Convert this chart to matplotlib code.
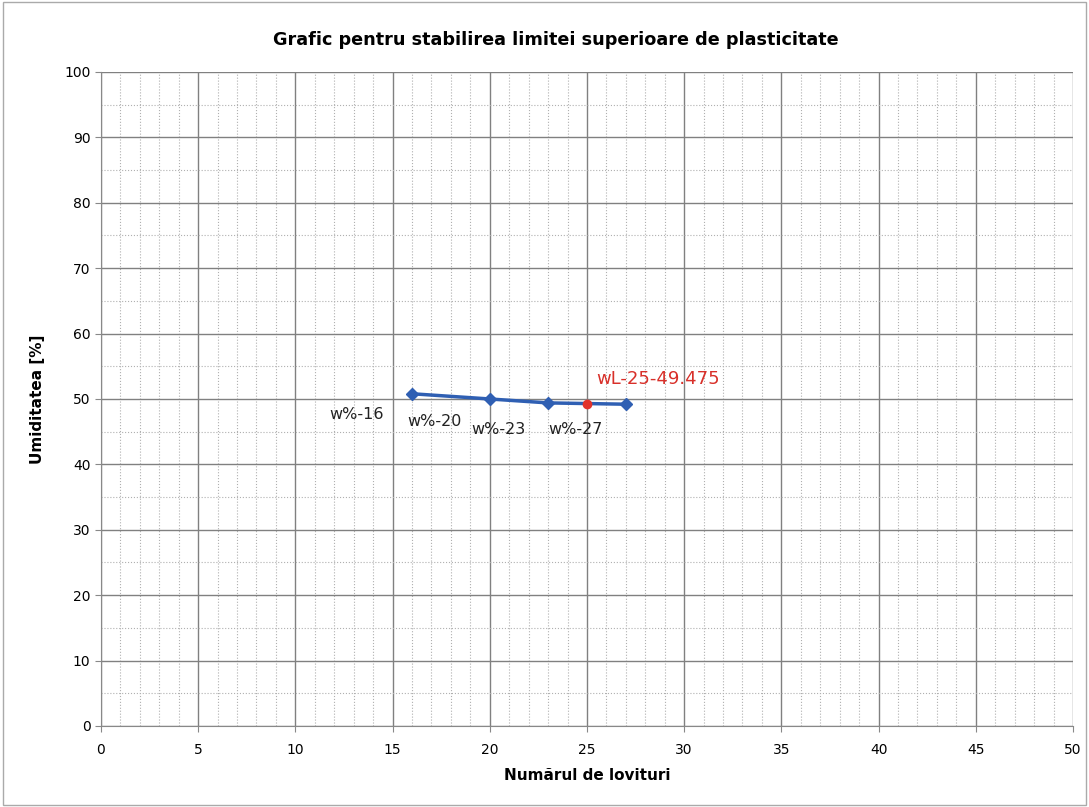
import numpy as np
import matplotlib.pyplot as plt
from matplotlib.ticker import MultipleLocator

# data
lovituri = [16, 20, 23, 27]
umiditate = [50.8, 50.0, 49.4, 49.2]
etichete = ['w%-16', 'w%-20', 'w%-23', 'w%-27']
eticheta_pos = [(11.75, 46.9), (15.75, 45.9), (19.05, 44.7), (23.0, 44.7)]
wl_x = [25]
wl_y = [49.3]
wl_label = 'wL-25-49.475'

fig = plt.figure(figsize=(10.89, 8.07), dpi=100)
ax = fig.add_axes([0.0927, 0.1004, 0.8926, 0.8104])

ax.plot(lovituri, umiditate, color='#2f5fb3', lw=2.5, marker='D', ms=6, zorder=3)
ax.plot(wl_x, wl_y, 'o', color='#e2332b', ms=6, zorder=4)

for (tx, ty), t in zip(eticheta_pos, etichete):
    ax.text(tx, ty, t, fontsize=11.5, color='#222222')
ax.text(25.5, 52.3, wl_label, fontsize=13, color='#d8302a')

ax.set_xlim(0, 50)
ax.set_ylim(0, 100)
ax.xaxis.set_major_locator(MultipleLocator(5))
ax.xaxis.set_minor_locator(MultipleLocator(1))
ax.yaxis.set_major_locator(MultipleLocator(10))
ax.yaxis.set_minor_locator(MultipleLocator(5))
ax.grid(which='major', color='#808080', lw=1.0)
ax.grid(which='minor', color='#b0b0b0', lw=0.8, ls=':')
ax.set_axisbelow(True)
for s in ['top', 'right']:
    ax.spines[s].set_visible(False)
for s in ['left', 'bottom']:
    ax.spines[s].set_color('#888888')
ax.tick_params(which='both', length=4, color='#888888', labelsize=10)
ax.tick_params(which='minor', length=0)
ax.tick_params(axis='x', pad=8)

fig.text(0.51, 0.95, 'Grafic pentru stabilirea limitei superioare de plasticitate',
         fontsize=12.7, fontweight='bold', ha='center', va='center')
ax.set_xlabel('Numărul de lovituri', fontsize=11, fontweight='bold', labelpad=8)
ax.set_ylabel('Umiditatea [%]', fontsize=11, fontweight='bold', labelpad=14)

fig.patches.append(plt.Rectangle((0.003, 0.003), 0.994, 0.994, transform=fig.transFigure,
                                 fill=False, ec='#aaaaaa', lw=1))
fig.savefig('out.png', dpi=100)
